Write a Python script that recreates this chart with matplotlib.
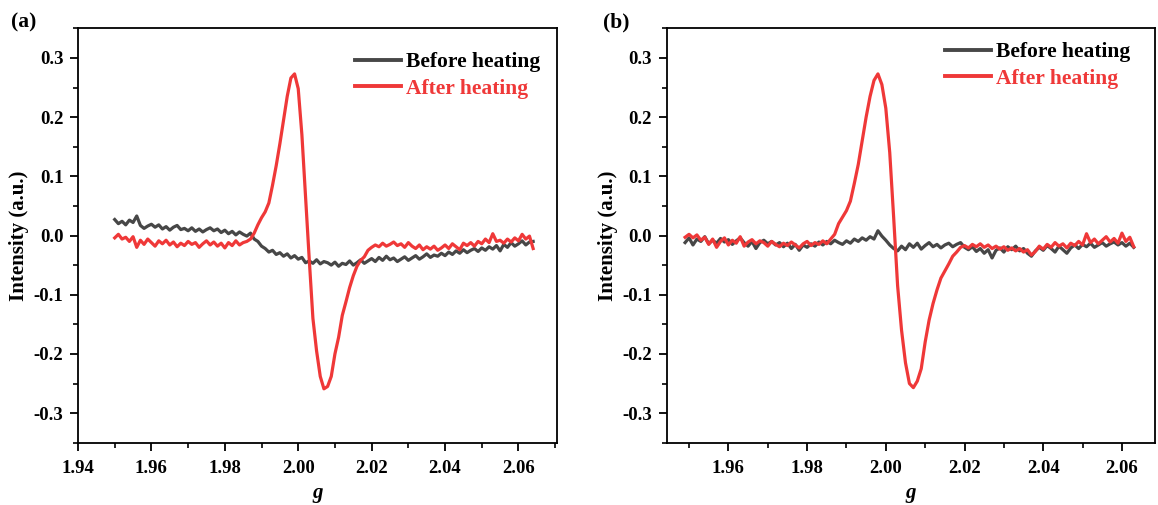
import numpy as np
import matplotlib
matplotlib.use("Agg")
import matplotlib.pyplot as plt
from matplotlib.ticker import MultipleLocator, FormatStrFormatter

plt.rcParams['font.family'] = ['Liberation Serif', 'DejaVu Serif']
plt.rcParams['font.weight'] = 'bold'

# ---------------- data ----------------
g_step = 0.001
g_start_a = 1.950
g_start_b = 1.949

before_a = [
    0.027, 0.020, 0.024, 0.018, 0.026, 0.022, 0.033, 0.017, 0.012, 0.016,
    0.019, 0.014, 0.018, 0.011, 0.015, 0.009, 0.014, 0.017, 0.010, 0.012,
    0.008, 0.013, 0.007, 0.011, 0.006, 0.010, 0.013, 0.008, 0.011, 0.005,
    0.009, 0.003, 0.007, 0.001, 0.006, 0.002, -0.001, 0.004, -0.006, -0.010,
    -0.018, -0.022, -0.028, -0.025, -0.032, -0.029, -0.035, -0.031, -0.038, -0.034,
    -0.040, -0.037, -0.046, -0.043, -0.047, -0.041, -0.048, -0.044, -0.046, -0.050,
    -0.045, -0.052, -0.047, -0.049, -0.043, -0.050, -0.046, -0.041, -0.047, -0.043,
    -0.039, -0.044, -0.037, -0.042, -0.035, -0.041, -0.038, -0.044, -0.040, -0.036,
    -0.042, -0.038, -0.034, -0.040, -0.036, -0.031, -0.037, -0.033, -0.035, -0.030,
    -0.034, -0.028, -0.032, -0.026, -0.030, -0.024, -0.029, -0.025, -0.022, -0.027,
    -0.021, -0.025, -0.019, -0.023, -0.017, -0.026, -0.015, -0.020, -0.012, -0.018,
    -0.014, -0.009, -0.016, -0.011, -0.010,
]
after_a = [
    -0.004, 0.002, -0.006, -0.003, -0.010, -0.002, -0.020, -0.008, -0.015, -0.006,
    -0.012, -0.018, -0.009, -0.014, -0.008, -0.016, -0.011, -0.019, -0.013, -0.017,
    -0.010, -0.015, -0.012, -0.020, -0.014, -0.009, -0.016, -0.011, -0.018, -0.013,
    -0.021, -0.012, -0.017, -0.009, -0.016, -0.012, -0.010, -0.006, 0.004, 0.018,
    0.030, 0.040, 0.055, 0.085, 0.118, 0.155, 0.195, 0.235, 0.266, 0.273,
    0.248, 0.170, 0.065, -0.040, -0.140, -0.195, -0.238, -0.259, -0.255, -0.238,
    -0.200, -0.172, -0.135, -0.112, -0.088, -0.068, -0.052, -0.042, -0.036, -0.025,
    -0.020, -0.016, -0.019, -0.013, -0.018, -0.015, -0.011, -0.017, -0.014, -0.020,
    -0.012, -0.018, -0.022, -0.016, -0.024, -0.019, -0.023, -0.018, -0.025, -0.021,
    -0.016, -0.022, -0.014, -0.019, -0.024, -0.013, -0.017, -0.012, -0.018, -0.010,
    -0.014, -0.006, -0.012, 0.003, -0.010, -0.008, -0.013, -0.006, -0.011, -0.004,
    -0.009, 0.002, -0.006, -0.001, -0.022,
]
before_b = [
    -0.012, -0.004, -0.016, -0.006, -0.010, -0.002, -0.014, -0.008, -0.013, -0.005,
    -0.011, -0.007, -0.015, -0.009, -0.004, -0.012, -0.018, -0.010, -0.022, -0.012,
    -0.008, -0.014, -0.010, -0.016, -0.012, -0.019, -0.013, -0.022, -0.015, -0.025,
    -0.016, -0.020, -0.014, -0.018, -0.011, -0.016, -0.010, -0.014, -0.008, -0.012,
    -0.015, -0.009, -0.013, -0.006, -0.010, -0.004, -0.008, -0.002, -0.006, 0.008,
    -0.001, -0.008, -0.016, -0.022, -0.026, -0.018, -0.024, -0.014, -0.020, -0.013,
    -0.023, -0.017, -0.012, -0.019, -0.015, -0.021, -0.016, -0.013, -0.019, -0.015,
    -0.012, -0.020, -0.024, -0.019, -0.027, -0.022, -0.030, -0.024, -0.038, -0.025,
    -0.021, -0.028, -0.019, -0.024, -0.018, -0.026, -0.022, -0.030, -0.035, -0.026,
    -0.020, -0.025, -0.017, -0.022, -0.028, -0.018, -0.024, -0.030, -0.021, -0.016,
    -0.022, -0.015, -0.019, -0.013, -0.020, -0.016, -0.012, -0.018, -0.014, -0.011,
    -0.016, -0.012, -0.018, -0.013, -0.020,
]
after_b = [
    -0.003, 0.002, -0.004, 0.001, -0.008, -0.003, -0.015, -0.006, -0.020, -0.010,
    -0.004, -0.016, -0.008, -0.013, -0.002, -0.018, -0.011, -0.007, -0.014, -0.009,
    -0.012, -0.018, -0.010, -0.015, -0.019, -0.013, -0.017, -0.011, -0.016, -0.021,
    -0.014, -0.010, -0.017, -0.012, -0.015, -0.009, -0.014, -0.006, 0.002, 0.020,
    0.031, 0.042, 0.058, 0.088, 0.120, 0.160, 0.200, 0.235, 0.262, 0.273,
    0.255, 0.215, 0.140, 0.030, -0.085, -0.160, -0.215, -0.250, -0.257, -0.246,
    -0.225, -0.180, -0.143, -0.115, -0.092, -0.072, -0.060, -0.048, -0.035, -0.028,
    -0.020, -0.017, -0.021, -0.015, -0.019, -0.014, -0.020, -0.016, -0.022, -0.018,
    -0.023, -0.019, -0.025, -0.021, -0.026, -0.022, -0.028, -0.024, -0.033, -0.027,
    -0.018, -0.023, -0.015, -0.020, -0.012, -0.018, -0.014, -0.021, -0.013, -0.017,
    -0.010, -0.016, 0.003, -0.012, -0.006, -0.014, -0.008, -0.002, -0.011, -0.005,
    -0.013, 0.004, -0.010, -0.003, -0.019,
]

labels = ["Before heating", "After heating"]
panel_tags = ["(a)", "(b)"]
xlims = [(1.94, 2.0705), (1.9443, 2.0684)]

g_a = g_start_a + g_step * np.arange(len(before_a))
g_b = g_start_b + g_step * np.arange(len(before_b))

gray = '#474747'
red = '#EF3838'

W, H = 1158, 505
fig = plt.figure(figsize=(W / 100, H / 100), dpi=100)

def px_axes(l, r, t, b):
    return fig.add_axes([l / W, 1 - b / H, (r - l) / W, (b - t) / H])

ax_a = px_axes(78, 557, 28.3, 442.7)
ax_b = px_axes(666.6, 1155, 28.3, 442.7)

panels = [
    (ax_a, g_a, before_a, after_a, xlims[0], (0.579, 0.9425), 19.3, 22, 11),
    (ax_b, g_b, before_b, after_b, xlims[1], (0.571, 0.9665), 607.6, 22, 603),
]

for i, (ax, g, bef, aft, xl, legpos, ylab_x, tag_y, tag_x) in enumerate(panels):
    l1, = ax.plot(g, bef, color=gray, lw=2.3, label=labels[0])
    l2, = ax.plot(g, aft, color=red, lw=2.3, label=labels[1])
    ax.set_xlim(*xl)
    ax.set_ylim(-0.35, 0.35)
    ax.xaxis.set_major_locator(MultipleLocator(0.02))
    ax.xaxis.set_minor_locator(MultipleLocator(0.01))
    ax.yaxis.set_major_locator(MultipleLocator(0.1))
    ax.yaxis.set_minor_locator(MultipleLocator(0.05))
    ax.xaxis.set_major_formatter(FormatStrFormatter('%.2f'))
    ax.yaxis.set_major_formatter(FormatStrFormatter('%.1f'))
    ax.tick_params(which='major', direction='out', length=6, width=1.3,
                   labelsize=13.5, pad=4.5, top=False, right=False)
    ax.tick_params(axis='x', which='major', pad=6.5)
    ax.tick_params(which='minor', direction='out', length=3.5, width=1.2,
                   top=False, right=False)
    for lab in ax.get_xticklabels() + ax.get_yticklabels():
        lab.set_fontweight('bold')
    for sp in ax.spines.values():
        sp.set_linewidth(1.3)
    ax.set_xlabel('g', fontsize=15, fontweight='bold', fontstyle='italic',
                  labelpad=4)
    fig.text(ylab_x / W, 1 - 236 / H, 'Intensity (a.u.)', rotation=90,
             ha='center', va='center', fontsize=15, fontweight='bold')
    fig.text(tag_x / W, 1 - tag_y / H, panel_tags[i], ha='left', va='center',
             fontsize=15.5, fontweight='bold')
    leg = ax.legend(handles=[l1, l2], loc='upper left', bbox_to_anchor=legpos,
                    frameon=False, fontsize=15.5, handlelength=2.1,
                    handletextpad=0.25, labelspacing=0.31, borderpad=0,
                    borderaxespad=0)
    for txt, col in zip(leg.get_texts(), ['black', red]):
        txt.set_color(col)
        txt.set_fontweight('bold')
    for h in leg.get_lines():
        h.set_linewidth(2.8)

fig.savefig('out.png', dpi=100)
